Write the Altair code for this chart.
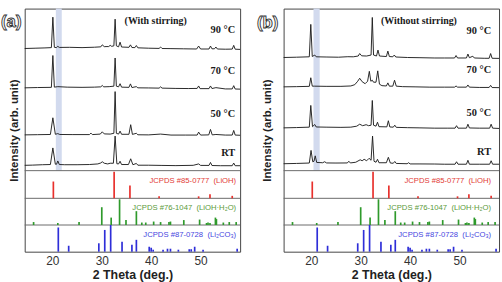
import altair as alt
import pandas as pd

# ---------------- data ----------------
TICKS = [20, 30, 40, 50]
X_DOMAIN = [14.4, 58.0]

# XRD patterns: (2 theta, intensity above own baseline), panel (a) "With stirring"
A_90 = [(14.4,0.3),(16.5,0.6),(18.5,0.9),(19.8,1.2),(20.1,32),(20.4,1.5),(20.8,1.2),(21.1,2.5),(21.4,1.4),
        (23.5,1.5),(26,1.2),(28.5,1.6),(29.8,2.0),(30.1,4.0),(30.5,2.2),(31.4,2.3),(31.7,3.5),(32.0,2.5),
        (32.45,3.0),(32.7,30),(32.95,3.0),(33.4,2.0),(33.7,6.7),(34.0,1.8),(35.5,1.5),(35.8,4.0),(36.1,1.3),
        (36.7,1.2),(37.0,3.3),(37.3,1.0),(39.5,0.6),(41.6,0.4),(41.9,1.8),(42.2,0.3),(44,0.2),(46.5,0),
        (49.2,-0.2),(49.6,2.8),(50.0,-0.2),(51.7,-0.2),(52.0,2.8),(52.3,0),(52.8,0),(53.1,1.8),(53.4,-0.2),
        (55,-0.4),(56.4,-0.3),(56.7,3.5),(57.0,-0.4),(58,-0.6)]
A_70 = [(14.4,0.3),(17,0.6),(19.8,0.8),(20.1,33),(20.4,1.0),(21.1,1.5),(23,1.0),(26,0.8),(28.5,1.0),
        (29.8,1.3),(30.1,2.7),(30.4,1.3),(31.5,1.5),(32.45,2.0),(32.7,30.5),(32.95,2.0),(33.4,1.3),(33.7,4.5),
        (34.0,1.0),(35.5,0.8),(35.8,4.3),(36.1,0.6),(37.0,1.5),(37.3,0.3),(39.5,0.2),(41.6,0),(41.9,1.3),
        (42.2,0),(45,-0.3),(47.5,-0.4),(49.3,-0.3),(49.6,2.2),(49.9,-0.5),(51.7,-0.5),(52.0,2.2),(52.3,-0.4),
        (53.1,0.5),(55,-0.8),(56.4,-0.8),(56.7,2.5),(57.0,-0.9),(58,-1.0)]
A_50 = [(14.4,0.2),(17,0.4),(19.6,0.6),(20.1,17.5),(20.6,0.8),(21.1,1.5),(21.5,0.6),(24,0.5),(27.5,0.5),
        (27.8,2.0),(28.1,0.5),(29.7,1.0),(30.1,3.3),(30.5,1.2),(31.7,1.0),(32.45,1.8),(32.7,44),(32.95,1.8),
        (33.4,1.0),(33.7,4.0),(34.0,0.8),(35.5,0.8),(35.85,10.5),(36.2,0.7),(37.0,1.8),(37.3,0.3),(39.5,0.2),
        (41.9,1.0),(44,0),(47,0),(49.3,0),(49.6,3.0),(50,0),(51.65,0.2),(52.0,5.7),(52.35,0.2),(53.1,0.6),
        (55,0),(56.4,0),(56.7,4.7),(57.0,0),(58,-0.2)]
A_RT = [(14.4,0.4),(16,0.6),(18,1.0),(19.6,1.2),(20.1,18),(20.6,1.5),(20.85,1.5),(21.1,4.8),(21.4,1.2),
        (22.5,1.0),(25,1.0),(27.5,1.2),(29.2,1.8),(29.8,2.8),(30.1,4.0),(30.5,2.5),(31.2,1.8),(31.7,2.5),
        (32.35,2.5),(32.7,30),(33.05,2.0),(33.4,1.8),(33.7,4.5),(34.0,1.2),(35.4,1.2),(35.85,7.0),(36.3,1.0),
        (37.0,2.3),(37.3,0.5),(39.5,0.5),(42,0.3),(45,0.1),(48.5,0.4),(49.6,1.8),(50,0.3),(51.7,0.3),
        (52.0,3.3),(52.3,0.2),(54,0),(56.4,0),(56.7,2.7),(57.0,0),(58,0)]

# panel (b) "Without stirring"
B_90 = [(14.4,0.5),(17,0.8),(19.6,1.2),(19.9,34),(20.2,1.5),(20.7,3.0),(21.0,1.2),(23,1.0),(25.5,0.8),
        (27.4,1.3),(28.5,1.2),(29.5,2.0),(29.8,4.5),(30.2,2.2),(31.2,2.0),(32.1,3.0),(32.35,41),(32.6,3.0),
        (33.2,2.0),(33.5,8.0),(33.8,2.0),(35.2,1.5),(35.5,7.0),(35.8,1.5),(36.5,1.2),(36.8,3.0),(37.1,1.0),
        (39.5,0.5),(42,0.3),(45,0),(47,0),(49.0,0),(49.3,2.5),(49.6,0),(51.4,0),(51.7,4.0),(52.0,0.3),
        (52.7,1.8),(53.0,0),(55,-0.3),(56.0,-0.3),(56.3,4.5),(56.6,-0.3),(58,-0.4)]
B_70 = [(14.4,0.3),(17,0.5),(19.6,0.8),(19.9,9.5),(20.2,1.0),(20.7,1.0),(23,0.8),(26,0.8),(28.0,1.2),
        (28.8,2.5),(29.4,6),(29.8,9.0),(30.3,5.5),(30.9,3.5),(31.4,6),(31.75,16),(32.05,6),(32.35,7),
        (32.6,5),(33.1,5),(33.45,16.5),(33.8,3),(34.3,1.5),(35.2,1.2),(35.5,4.3),(35.8,1.0),(36.5,1.0),
        (36.85,7.0),(37.2,1.0),(38.5,0.5),(41,0.3),(44,0),(47,0),(49.0,0),(49.3,1.2),(49.6,0),(51.4,0),
        (51.7,2.2),(52,0),(54,-0.3),(56.0,-0.3),(56.3,1.8),(56.6,-0.4),(58,-0.5)]
B_50 = [(14.4,0.3),(17,0.6),(19.6,1.0),(19.9,23),(20.25,1.5),(20.7,3.7),(21.0,1.2),(23,1.0),(26,0.8),
        (28,1.0),(29.2,2.0),(29.8,4.0),(30.4,2.5),(31.1,3.5),(31.6,2.5),(32.1,3.0),(32.35,28),(32.6,3.0),
        (33.1,2.0),(33.4,6.0),(33.7,1.5),(35.3,1.3),(35.6,7.5),(35.9,1.2),(36.6,1.0),(36.9,3.0),(37.2,0.8),
        (39.5,0.5),(42,0.3),(45,0),(47.5,0),(49.1,0),(49.4,2.5),(49.7,0),(51.4,0),(51.7,4.0),(52.0,0.2),
        (54,0),(56.1,0),(56.4,4.0),(56.7,0),(58,-0.3)]
B_RT = [(14.4,0.5),(17,0.8),(19.6,1.2),(19.95,14),(20.3,2.5),(20.55,3),(20.8,8.5),(21.1,1.8),(22.3,1.5),
        (22.7,2.5),(23.1,1.3),(25,1.2),(27.3,1.3),(27.6,3.0),(27.9,1.3),(29.0,2.0),(29.9,4.5),(30.3,3.5),
        (30.7,5.0),(31.2,3.5),(31.7,6.0),(32.1,4.0),(32.4,28.5),(32.7,3.0),(33.1,2.0),(33.4,5.0),(33.7,1.5),
        (35.2,1.5),(35.6,7.0),(36.0,1.2),(36.6,1.0),(36.9,2.8),(37.2,0.8),(39.4,0.5),(39.7,1.5),(40.0,0.3),
        (42,0.3),(45,0.2),(47,0),(49.1,0),(49.4,2.5),(49.7,0),(51.4,0),(51.7,4.0),(52.0,0),(54,0),
        (56.1,0),(56.4,3.5),(56.7,0),(58,0)]

TEMPS = ["90 °C", "70 °C", "50 °C", "RT"]

# reference stick patterns (2 theta, relative height)
REF_NAMES = ["LiOH", "LiOH·H2O", "Li2CO3"]
LIOH_POS = [20.2, 32.5, 35.7, 41.6, 49.6, 51.9, 56.4]
LIOH_H = [17, 27, 13, 2, 2, 4, 2.5]
LIOHH2O_POS = [16.2, 21.1, 25.4, 30.0, 31.9, 33.6, 34.9, 37.0, 38.1, 38.9, 40.5, 41.9, 43.6, 43.9,
               46.6, 49.8, 51.2, 51.5, 51.9, 53.0, 53.2, 54.6, 55.8, 57.2]
LIOHH2O_H = [3, 2, 3, 18, 7.5, 26, 5, 14, 2.5, 2.5, 3.5, 3, 3, 3.5, 5, 5.5, 2, 2.5, 2, 7.5, 6, 2.5, 3, 3]
LI2CO3_POS = [21.2, 23.3, 29.4, 30.6, 31.8, 34.1, 36.1, 37.0, 39.6, 40.0, 40.4, 42.4, 43.3, 43.9,
              45.5, 47.7, 48.1, 48.8, 50.5, 57.4]
LI2CO3_H = [24.5, 6, 8.5, 22, 27, 10, 7, 12, 5, 4, 2, 2, 3, 3, 2, 2.5, 2.5, 5, 2, 3]
REF_LABELS = ["JCPDS #85-0777 \u00a0(LiOH)", "JCPDS #76-1047 \u00a0(LiOH·H₂O)",
              "JCPDS #87-0728 \u00a0(Li₂CO₃)"]
REF_COLORS = ["#e8302c", "#2f9a2c", "#2e2ed8"]
REF_TEXT_COLORS = ["#e23a36", "#5a9a3a", "#4646e0"]

# ---------------- layout constants ----------------
W, H = 218, 246
Y_DOMAIN = [0, 246]
REF_OFFSETS = [54, 27, 0]
DIVIDERS = [27, 54, 82]
A_OFFSETS = [205.3, 165.5, 118, 87]
B_OFFSETS = [196, 166.5, 125, 88.5]

xscale = alt.Scale(domain=X_DOMAIN, nice=False, zero=False)
yscale = alt.Scale(domain=Y_DOMAIN, nice=False, zero=False)


def xaxis():
    return alt.Axis(values=TICKS, title="2 Theta (deg.)", grid=False, ticks=False, domain=False,
                    labelPadding=4, titlePadding=2, format="d")


def yaxis(tpad):
    return alt.Axis(labels=False, ticks=False, domain=False, grid=False,
                    title="Intensity (arb. unit)", titlePadding=tpad, titleFontSize=11.5)


def one():
    return pd.DataFrame({"k": [0]})


def panel(patterns, offsets, band, cond, cond_x, temp_ys, temp_x, tpad, letter, letter_x, letter_y, ref_x):
    X = lambda f: alt.X(f"{f}:Q", scale=xscale, axis=xaxis())
    Y = lambda f: alt.Y(f"{f}:Q", scale=yscale, axis=yaxis(tpad))

    band_df = pd.DataFrame({"x1": [band[0]], "x2": [band[1]], "y1": [DIVIDERS[-1]], "y2": [Y_DOMAIN[1]]})
    band_l = alt.Chart(band_df).mark_rect(color="#d2daee").encode(x=X("x1"), x2="x2", y=Y("y1"), y2="y2")

    div_l = alt.Chart(pd.DataFrame({"y": DIVIDERS})).mark_rule(color="#6a6a6a", strokeWidth=1).encode(
        y=Y("y"), x=alt.value(0), x2=alt.value(W))

    rows = []
    for name, pos, hts, off in zip(REF_NAMES, [LIOH_POS, LIOHH2O_POS, LI2CO3_POS],
                                   [LIOH_H, LIOHH2O_H, LI2CO3_H], REF_OFFSETS):
        for p, h in zip(pos, hts):
            rows.append({"ref": name, "tt": p, "y0": off, "y1": off + h})
    stick_l = alt.Chart(pd.DataFrame(rows)).mark_rule(strokeWidth=1.7).encode(
        x=X("tt"), y=Y("y0"), y2="y1",
        color=alt.Color("ref:N", scale=alt.Scale(domain=REF_NAMES, range=REF_COLORS), legend=None))

    lrows = []
    for name, pts, off in zip(TEMPS, patterns, offsets):
        for i, (x, y) in enumerate(pts):
            lrows.append({"series": name, "tt": x, "y": y + off, "i": i})
    line_l = alt.Chart(pd.DataFrame(lrows)).mark_line(color="#1e1e1e", strokeWidth=0.95).encode(
        x=X("tt"), y=Y("y"), detail="series:N", order="i:Q")

    layers = [band_l, div_l, stick_l, line_l]

    for t, ty in zip(TEMPS, temp_ys):
        layers.append(alt.Chart(one()).mark_text(
            text=t, x=temp_x, y=ty, align="right", baseline="middle", font="Liberation Serif",
            fontWeight="bold", fontSize=10.5, color="#1a1a1a"))
    layers.append(alt.Chart(one()).mark_text(
        text=cond, x=cond_x, y=13, align="center", baseline="middle", font="Liberation Serif",
        fontWeight="bold", fontSize=10, color="#1a1a1a"))
    for lab, col, ly in zip(REF_LABELS, REF_TEXT_COLORS, [174, 201.7, 229]):
        layers.append(alt.Chart(one()).mark_text(
            text=lab, x=ref_x, y=ly, align="right", baseline="middle",
            font="Liberation Sans", fontSize=7.8, color=col))
    layers.append(alt.Chart(one()).mark_text(
        text=letter, x=letter_x, y=letter_y, align="left", baseline="middle", font="Liberation Sans",
        fontWeight="bold", fontSize=17, fill="#ffffff", stroke="#333333", strokeWidth=0.9))

    return alt.layer(*layers).properties(width=W, height=H)


pa = panel([A_90, A_70, A_50, A_RT], A_OFFSETS, (20.7, 21.9), "(With stirring)", 132.5,
           [22, 63, 106.7, 145.7], 213, 5, "(a)", -24, 13.5, 214)
pb = panel([B_90, B_70, B_50, B_RT], B_OFFSETS, (20.45, 21.7), "(Without stirring)", 137,
           [22.3, 62.5, 106, 144.7], 210, 11, "(b)", -27, 15, 210)

chart = alt.hconcat(pa, pb, spacing=13).properties(
    padding={"left": 0, "top": 6, "right": 0, "bottom": 0},
    background="#ffffff",
).configure_view(stroke="#444444", strokeWidth=1).configure_axis(
    labelFont="Liberation Sans", labelFontSize=12, labelColor="#333333",
    titleFont="Liberation Sans", titleFontSize=12.5, titleFontWeight="bold", titleColor="#222222",
)

chart.save("out.html", embed_options={"renderer": "svg", "actions": False})
